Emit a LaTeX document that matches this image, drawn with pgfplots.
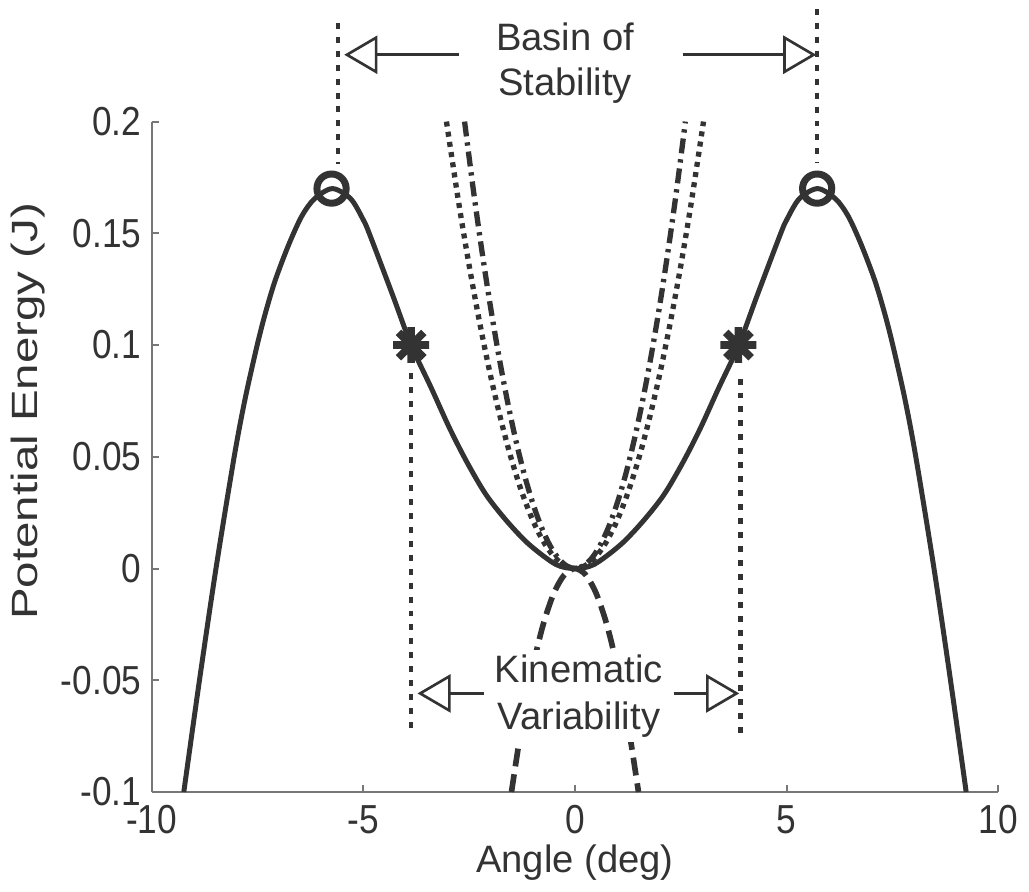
\documentclass[border=0pt]{standalone}
\usepackage{fontspec}
\setmainfont{Liberation Sans}
\newfontfamily\tickfont{Liberation Sans}[FakeStretch=0.87]
\newfontfamily\ylabfont{Liberation Sans}[FakeStretch=1.3]
\usepackage{pgfplots}
\pgfplotsset{compat=1.18}
\usetikzlibrary{arrows.meta}

\definecolor{ink}{HTML}{333333}
\definecolor{axisgray}{HTML}{777777}

% MATLAB-style eight-armed asterisk
\pgfdeclareplotmark{star8}{%
  \pgfpathmoveto{\pgfqpoint{-\pgfplotmarksize}{0pt}}%
  \pgfpathlineto{\pgfqpoint{\pgfplotmarksize}{0pt}}%
  \pgfpathmoveto{\pgfqpoint{0pt}{-\pgfplotmarksize}}%
  \pgfpathlineto{\pgfqpoint{0pt}{\pgfplotmarksize}}%
  \pgfpathmoveto{\pgfqpoint{-0.7071\pgfplotmarksize}{-0.7071\pgfplotmarksize}}%
  \pgfpathlineto{\pgfqpoint{0.7071\pgfplotmarksize}{0.7071\pgfplotmarksize}}%
  \pgfpathmoveto{\pgfqpoint{-0.7071\pgfplotmarksize}{0.7071\pgfplotmarksize}}%
  \pgfpathlineto{\pgfqpoint{0.7071\pgfplotmarksize}{-0.7071\pgfplotmarksize}}%
  \pgfusepathqstroke}

\tikzset{openarrow/.style={ink, line width=0.8pt,
  -{Triangle[open, length=10pt, width=11.5pt, line width=0.8pt]}}}
\tikzset{guide/.style={ink, line width=1.3pt, dash pattern=on 1.8pt off 2.4pt}}

\begin{document}
\begin{tikzpicture}
\begin{axis}[
    scale only axis,
    width=255pt, height=201.9pt,
    xmin=-10, xmax=10, ymin=-0.1, ymax=0.2,
    axis x line=bottom, axis y line=left,
    axis line style={-, axisgray, line width=0.6pt},
    tick style={axisgray, line width=0.6pt},
    major tick length=2.2pt,
    tick align=inside,
    xtick={-10,-5,0,5,10}, xticklabels={-10,-5,0,5,10},
    ytick={-0.1,-0.05,0,0.05,0.1,0.15,0.2},
    yticklabels={-0.1,-0.05,0,0.05,0.1,0.15,0.2},
    ticklabel style={font=\tickfont\fontsize{12.2}{14}\selectfont, text=ink},
    yticklabel style={xshift=0.4pt},
    xticklabel style={yshift=-0.6pt},
    xlabel={Angle (deg)}, ylabel={Potential Energy (J)},
    xlabel style={font=\fontsize{11.5}{13}\selectfont, text=ink,
        at={(rel axis cs:0.5,-0.105)}, anchor=center},
    ylabel style={font=\ylabfont\fontsize{11}{13}\selectfont, text=ink,
        at={(rel axis cs:-0.1459,0.568)}, anchor=center},
    clip=false,
]
% picture extent
\path (axis cs:-13.553,-0.1397) rectangle (axis cs:10.659,0.2544);

% total potential
\addplot[ink, line width=1.5pt, smooth] coordinates {
(-9.24,-0.1) (-8.87,-0.05) (-8.48,0) (-8.05,0.05) (-7.79,0.0761) (-7.5,0.1005)
(-7.31,0.1145) (-7.08,0.129) (-6.76,0.145) (-6.45,0.1578) (-6.15,0.1655)
(-5.73,0.17) (-5.3,0.1655) (-5.0,0.156) (-4.85,0.1495) (-4.3,0.122) (-3.87,0.1)
(-3.4,0.081) (-2.96,0.0627) (-2.55,0.0475) (-2.1,0.033) (-1.6,0.021)
(-1.08,0.0107) (-0.45,0.0018) (0,0)
(0.45,0.0018) (1.08,0.0107) (1.6,0.021) (2.1,0.033) (2.55,0.0475) (2.96,0.0627)
(3.4,0.081) (3.87,0.1) (4.3,0.122) (4.85,0.1495) (5.0,0.156) (5.3,0.1655)
(5.73,0.17) (6.15,0.1655) (6.45,0.1578) (6.76,0.145) (7.08,0.129) (7.31,0.1145)
(7.5,0.1005) (7.79,0.0761) (8.05,0.05) (8.48,0) (8.87,-0.05) (9.24,-0.1)};

% dotted parabola
\addplot[ink, line width=1.6pt, dash pattern=on 1.5pt off 1.6pt, smooth] coordinates {
(-3.036,0.2) (-2.75,0.1641) (-2.5,0.1356) (-2.25,0.1099) (-2.0,0.0868)
(-1.75,0.0665) (-1.5,0.0488) (-1.25,0.0339) (-1.0,0.0217) (-0.75,0.0122)
(-0.5,0.0054) (-0.25,0.0014) (0,0) (0.25,0.0014) (0.5,0.0054) (0.75,0.0122)
(1.0,0.0217) (1.25,0.0339) (1.5,0.0488) (1.75,0.0665) (2.0,0.0868)
(2.25,0.1099) (2.5,0.1356) (2.75,0.1641) (3.036,0.2)};

% dash-dot parabola
\addplot[ink, line width=1.6pt, dash pattern=on 4.5pt off 1.8pt on 1pt off 1.8pt, smooth] coordinates {
(-2.608,0.2) (-2.4,0.1693) (-2.2,0.1423) (-2.0,0.1176) (-1.8,0.0953)
(-1.6,0.0753) (-1.4,0.0576) (-1.2,0.0423) (-1.0,0.0294) (-0.8,0.0188)
(-0.6,0.0106) (-0.4,0.0047) (-0.2,0.0012) (0,0) (0.2,0.0012) (0.4,0.0047)
(0.6,0.0106) (0.8,0.0188) (1.0,0.0294) (1.2,0.0423) (1.4,0.0576) (1.6,0.0753)
(1.8,0.0953) (2.0,0.1176) (2.2,0.1423) (2.4,0.1693) (2.608,0.2)};

% dashed inverted parabola
\addplot[ink, line width=1.7pt, dash pattern=on 5.4pt off 2.4pt, smooth] coordinates {
(-1.5,-0.1) (-1.25,-0.0694) (-1.0,-0.0444) (-0.75,-0.025) (-0.5,-0.0111)
(-0.25,-0.0028) (0,0) (0.25,-0.0028) (0.5,-0.0111) (0.75,-0.025)
(1.0,-0.0444) (1.25,-0.0694) (1.5,-0.1)};

% guide lines
\addplot[guide] coordinates {(-5.6,0.2442) (-5.6,0.181)};
\addplot[guide] coordinates {(5.72,0.2504) (5.72,0.1817)};
\addplot[guide] coordinates {(-3.87,0.0873) (-3.87,-0.0733)};
\addplot[guide] coordinates {(3.91,0.085) (3.91,-0.075)};

% markers
\addplot[ink, only marks, mark=o, mark size=4.4pt, line width=2.1pt] coordinates {(-5.75,0.17) (5.72,0.17)};
\addplot[ink, only marks, mark=star8, mark size=5.4pt, line width=2.3pt] coordinates {(-3.87,0.1) (3.86,0.1)};

% annotations
\draw[openarrow] (axis cs:-2.75,0.2299) -- (axis cs:-5.45,0.2299);
\draw[openarrow] (axis cs:2.54,0.2299) -- (axis cs:5.7,0.2299);
\node[align=center, text=ink, font=\fontsize{11.5}{13.5}\selectfont, inner sep=1pt]
    at (axis cs:-0.235,0.2263) {Basin of\\Stability};

\draw[openarrow] (axis cs:-2.14,-0.0559) -- (axis cs:-3.72,-0.0559);
\draw[openarrow] (axis cs:2.33,-0.0559) -- (axis cs:3.88,-0.0559);
\node[align=center, text=ink, fill=white, font=\fontsize{11.5}{14}\selectfont, inner sep=1.5pt]
    at (axis cs:0.09,-0.0571) {Kinematic\\Variability};
\end{axis}
\end{tikzpicture}
\end{document}
